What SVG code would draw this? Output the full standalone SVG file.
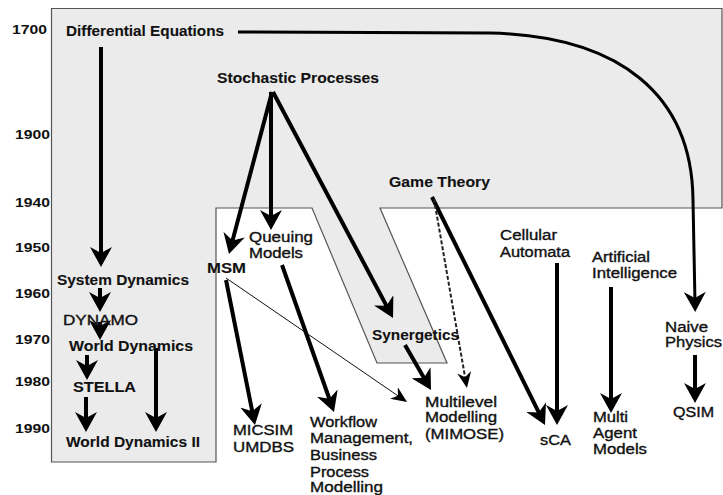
<svg xmlns="http://www.w3.org/2000/svg" width="723" height="495" viewBox="0 0 723 495">
<style>
text{font-family:"Liberation Sans",Arial,sans-serif;font-size:14px;fill:#111;stroke:#111;stroke-width:0.35}
.b{font-weight:bold;stroke-width:0.1}
.yr{font-weight:bold;font-size:13.5px;stroke-width:0}
.thick{fill:none;stroke:#000;stroke-width:4}
.curve{fill:none;stroke:#000;stroke-width:3}
.thin{fill:none;stroke:#111;stroke-width:1}
.dash{fill:none;stroke:#222;stroke-width:2;stroke-dasharray:4 2}
.region{fill:#ebebeb;stroke:#555;stroke-width:1.2}
</style>
<defs>
<marker id="ah" viewBox="0 0 20 22" refX="11" refY="11" markerWidth="20" markerHeight="22" orient="auto" markerUnits="userSpaceOnUse">
<path d="M0,0 L20,11 L0,22 L6,11 Z" fill="#000"/>
</marker>
<marker id="ahs" viewBox="0 0 16 14" refX="11" refY="7" markerWidth="16" markerHeight="14" orient="auto" markerUnits="userSpaceOnUse">
<path d="M0,0 L16,7 L0,14 L5,7 Z" fill="#000"/>
</marker>
</defs>
<rect width="723" height="495" fill="#fff"/>
<g id="background">
<path class="region" d="M51.5,8.5 L722,8.5 L722,208 L380,208 L447,363 L377,363 L312,208 L216,208 L216,462 L51.5,462 Z"/>
</g>
<g id="years">
<text class="yr" x="12" y="34" textLength="35" lengthAdjust="spacingAndGlyphs">1700</text>
<text class="yr" x="15" y="139" textLength="35" lengthAdjust="spacingAndGlyphs">1900</text>
<text class="yr" x="15" y="207" textLength="35" lengthAdjust="spacingAndGlyphs">1940</text>
<text class="yr" x="15" y="252" textLength="35" lengthAdjust="spacingAndGlyphs">1950</text>
<text class="yr" x="15" y="298" textLength="35" lengthAdjust="spacingAndGlyphs">1960</text>
<text class="yr" x="15" y="344" textLength="35" lengthAdjust="spacingAndGlyphs">1970</text>
<text class="yr" x="15" y="386" textLength="35" lengthAdjust="spacingAndGlyphs">1980</text>
<text class="yr" x="15" y="433" textLength="35" lengthAdjust="spacingAndGlyphs">1990</text>
</g>
<g id="connectors">
<path class="curve" marker-end="url(#ah)" d="M238,32 L490,33 C620,36 692,95 693,200 L695,303"/>
<line class="thick" marker-end="url(#ah)" x1="101" y1="47" x2="101" y2="258"/>
<line class="thick" marker-end="url(#ah)" x1="100" y1="288" x2="100" y2="303"/>
<line class="thick" marker-end="url(#ah)" x1="100" y1="322" x2="100" y2="331"/>
<line class="thick" marker-end="url(#ah)" x1="87" y1="355" x2="87" y2="371"/>
<line class="thick" marker-end="url(#ah)" x1="86" y1="397" x2="86" y2="423"/>
<line class="thick" marker-end="url(#ah)" x1="156" y1="348" x2="156" y2="423"/>
<line class="thick" marker-end="url(#ah)" x1="272" y1="92" x2="231.3" y2="245.3"/>
<line class="thick" marker-end="url(#ah)" x1="271" y1="92" x2="271" y2="221"/>
<line class="thick" marker-end="url(#ah)" x1="273" y1="92" x2="388.8" y2="310.1"/>
<line class="thick" marker-end="url(#ah)" x1="226" y1="280" x2="253.2" y2="416.2"/>
<line class="thick" marker-end="url(#ah)" x1="282" y1="265" x2="331" y2="403.5"/>
<line class="thick" marker-end="url(#ah)" x1="405" y1="345" x2="426.5" y2="382.2"/>
<line class="thick" marker-end="url(#ah)" x1="432" y1="197" x2="541" y2="416.9"/>
<line class="thick" marker-end="url(#ah)" x1="557" y1="263" x2="557" y2="416"/>
<line class="thick" marker-end="url(#ah)" x1="611" y1="287" x2="611" y2="404"/>
<line class="thick" marker-end="url(#ah)" x1="695" y1="355" x2="695" y2="394"/>
<line class="thin" marker-end="url(#ahs)" x1="226" y1="278" x2="402.9" y2="399.2"/>
<line class="dash" marker-end="url(#ahs)" x1="434" y1="199" x2="466.1" y2="383.1"/>
</g>
<g id="n-differential-equations"><text class="b" x="66" y="36" textLength="158" lengthAdjust="spacingAndGlyphs">Differential Equations</text></g>
<g id="n-stochastic-processes"><text class="b" x="217" y="83" textLength="162" lengthAdjust="spacingAndGlyphs">Stochastic Processes</text></g>
<g id="n-game-theory"><text class="b" x="389" y="187" textLength="101" lengthAdjust="spacingAndGlyphs">Game Theory</text></g>
<g id="n-system-dynamics"><text class="b" x="57" y="285" textLength="132" lengthAdjust="spacingAndGlyphs">System Dynamics</text></g>
<g id="n-dynamo"><text x="63" y="325" textLength="75" lengthAdjust="spacingAndGlyphs">DYNAMO</text></g>
<g id="n-world-dynamics"><text class="b" x="69" y="351" textLength="124" lengthAdjust="spacingAndGlyphs">World Dynamics</text></g>
<g id="n-stella"><text class="b" x="73" y="392" textLength="63" lengthAdjust="spacingAndGlyphs">STELLA</text></g>
<g id="n-world-dynamics-ii"><text class="b" x="66" y="447" textLength="134" lengthAdjust="spacingAndGlyphs">World Dynamics II</text></g>
<g id="n-queuing-models">
<text x="249" y="242" textLength="64" lengthAdjust="spacingAndGlyphs">Queuing</text>
<text x="249" y="258" textLength="54" lengthAdjust="spacingAndGlyphs">Models</text>
</g>
<g id="n-msm"><text class="b" x="207" y="273" textLength="39" lengthAdjust="spacingAndGlyphs">MSM</text></g>
<g id="n-synergetics"><text class="b" x="372" y="340" textLength="87" lengthAdjust="spacingAndGlyphs">Synergetics</text></g>
<g id="n-cellular-automata">
<text x="500" y="240" textLength="57" lengthAdjust="spacingAndGlyphs">Cellular</text>
<text x="500" y="257" textLength="70" lengthAdjust="spacingAndGlyphs">Automata</text>
</g>
<g id="n-artificial-intelligence">
<text x="592" y="262" textLength="58" lengthAdjust="spacingAndGlyphs">Artificial</text>
<text x="592" y="278" textLength="85" lengthAdjust="spacingAndGlyphs">Intelligence</text>
</g>
<g id="n-naive-physics">
<text x="665" y="332" textLength="43" lengthAdjust="spacingAndGlyphs">Naive</text>
<text x="665" y="347" textLength="57" lengthAdjust="spacingAndGlyphs">Physics</text>
</g>
<g id="n-qsim"><text x="673" y="417" textLength="41" lengthAdjust="spacingAndGlyphs">QSIM</text></g>
<g id="n-sca"><text x="540" y="445" textLength="31" lengthAdjust="spacingAndGlyphs">sCA</text></g>
<g id="n-multi-agent-models">
<text x="593" y="422" textLength="35" lengthAdjust="spacingAndGlyphs">Multi</text>
<text x="593" y="438" textLength="44" lengthAdjust="spacingAndGlyphs">Agent</text>
<text x="593" y="454" textLength="54" lengthAdjust="spacingAndGlyphs">Models</text>
</g>
<g id="n-multilevel-modelling">
<text x="425" y="407" textLength="72" lengthAdjust="spacingAndGlyphs">Multilevel</text>
<text x="425" y="422" textLength="72" lengthAdjust="spacingAndGlyphs">Modelling</text>
<text x="425" y="439" textLength="79" lengthAdjust="spacingAndGlyphs">(MIMOSE)</text>
</g>
<g id="n-micsim-umdbs">
<text x="233" y="435" textLength="60" lengthAdjust="spacingAndGlyphs">MICSIM</text>
<text x="233" y="452" textLength="61" lengthAdjust="spacingAndGlyphs">UMDBS</text>
</g>
<g id="n-workflow">
<text x="310" y="427" textLength="67" lengthAdjust="spacingAndGlyphs">Workflow</text>
<text x="310" y="443" textLength="103" lengthAdjust="spacingAndGlyphs">Management,</text>
<text x="310" y="460" textLength="67" lengthAdjust="spacingAndGlyphs">Business</text>
<text x="310" y="477" textLength="59" lengthAdjust="spacingAndGlyphs">Process</text>
<text x="310" y="492" textLength="73" lengthAdjust="spacingAndGlyphs">Modelling</text>
</g>
</svg>
